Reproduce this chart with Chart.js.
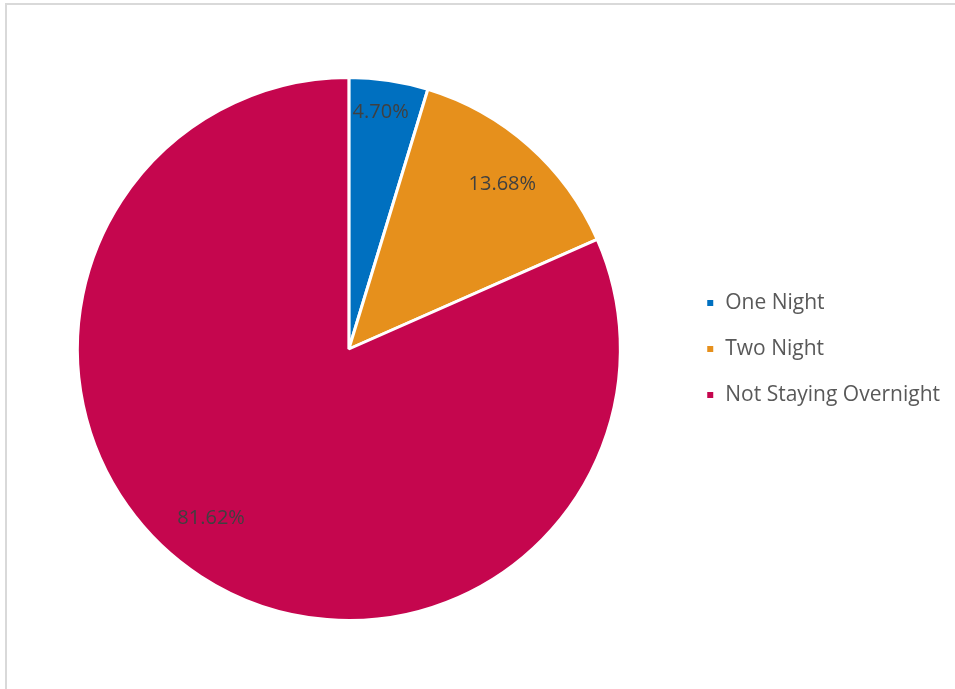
<!DOCTYPE html>
<html>
<head>
<meta charset="utf-8">
<script src="https://cdn.jsdelivr.net/npm/chart.js@4.4.1/dist/chart.umd.min.js"></script>
<style>
  html, body { margin: 0; padding: 0; background: #fff; }
  #wrap { position: relative; width: 955px; height: 689px; overflow: hidden; }
  #frame {
    position: absolute; left: 5px; top: 3px; width: 1000px; height: 1000px;
    border-left: 2px solid #d9d9d9; border-top: 2px solid #d9d9d9;
  }
  #chart { position: absolute; left: 0; top: 0; }
</style>
</head>
<body>
<div id="wrap">
  <div id="frame"></div>
  <canvas id="chart" width="955" height="689"></canvas>
</div>
<script>
const categories = ["One Night", "Two Night", "Not Staying Overnight"];
const shares = [4.70, 13.68, 81.62];
const sliceColors = ["#0070C0", "#E6901C", "#C5064E"];

function formatPercent(num) {
  return `${Number(num).toFixed(2)}%`;
}

// draws the percent labels inside each slice, Excel style
const sliceLabelPlugin = {
  id: "sliceLabels",
  afterDatasetsDraw(chart, args, opts) {
    const { ctx } = chart;
    const meta = chart.getDatasetMeta(0);
    const values = chart.data.datasets[0].data;
    ctx.save();
    ctx.font = opts.font;
    ctx.fillStyle = opts.color;
    ctx.textAlign = "center";
    ctx.textBaseline = "middle";
    meta.data.forEach((arc, i) => {
      const place = opts.place[i] || { dAngle: 0, r: 0.8 };
      const mid = (arc.startAngle + arc.endAngle) / 2 + place.dAngle * Math.PI / 180;
      const r = arc.outerRadius * place.r;
      ctx.fillText(formatPercent(values[i]), arc.x + Math.cos(mid) * r, arc.y + Math.sin(mid) * r);
    });
    ctx.restore();
  },
};

new Chart(document.getElementById("chart"), {
  type: "pie",
  data: {
    labels: categories,
    datasets: [
      {
        label: "Share",
        data: shares,
        backgroundColor: sliceColors,
        borderColor: "#ffffff",
        borderWidth: 3,
      },
    ],
  },
  plugins: [sliceLabelPlugin],
  options: {
    responsive: false,
    animation: false,
    layout: { padding: { left: 17, right: 5, top: 76, bottom: 67 } },
    plugins: {
      tooltip: { enabled: false },
      legend: {
        position: "right",
        labels: {
          boxWidth: 9,
          boxHeight: 9,
          padding: 25,
          color: "#595959",
          font: { family: "'Open Sans', sans-serif", size: 21 },
        },
      },
      sliceLabels: {
        font: "20px 'Open Sans', sans-serif",
        color: "#404040",
        place: [
          { dAngle: -0.8, r: 0.878 },
          { dAngle: 1.5, r: 0.828 },
          { dAngle: 6.1, r: 0.803 },
        ],
      },
    },
  },
});
</script>
</body>
</html>
